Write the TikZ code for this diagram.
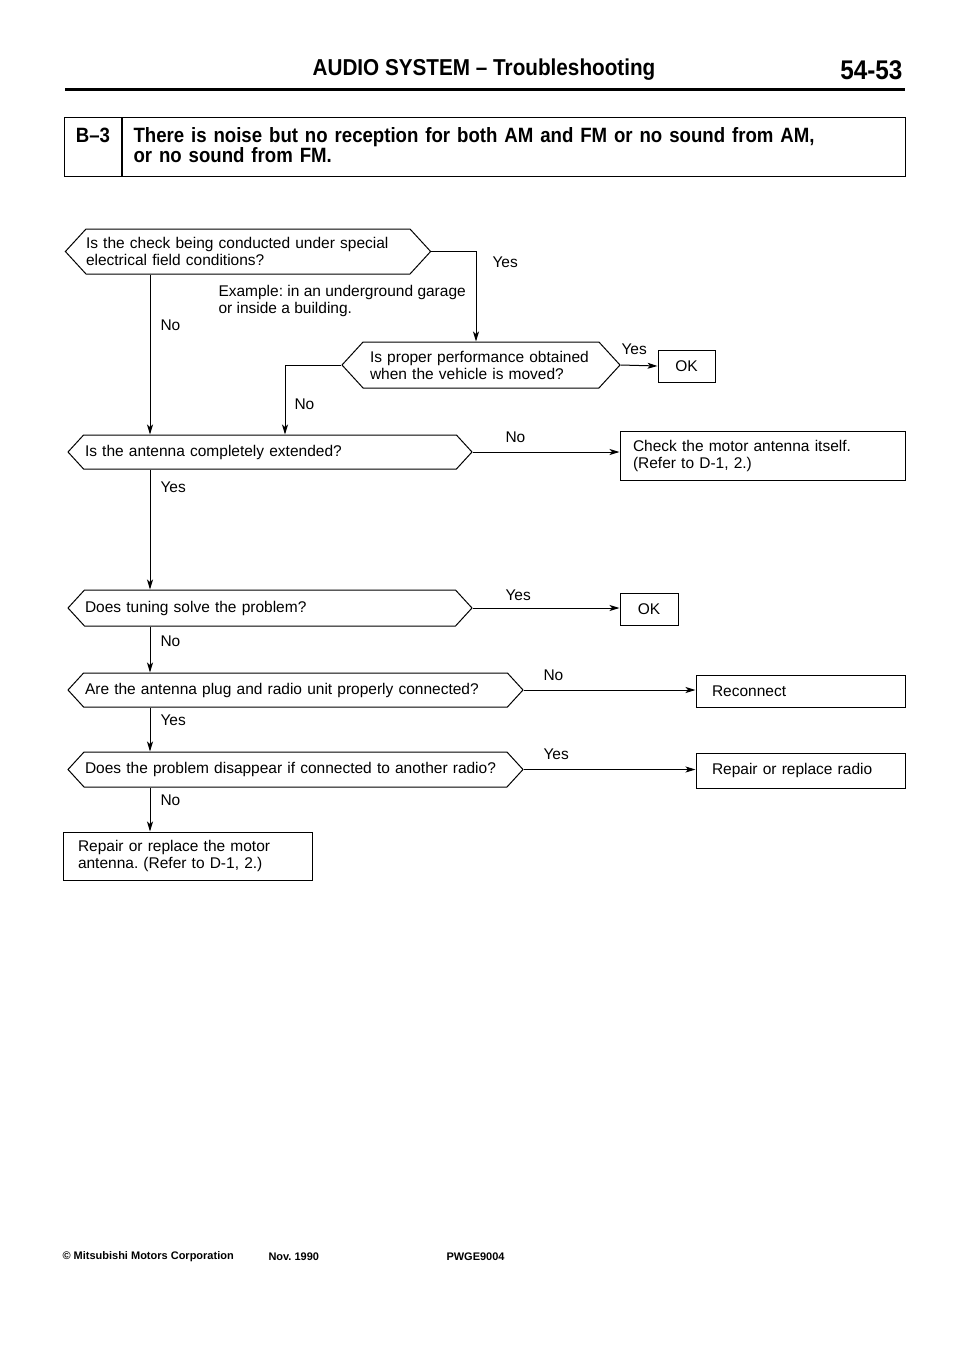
\documentclass[tikz,border=0pt]{standalone}
\usepackage{fontspec}
\setmainfont{Liberation Sans}
\newfontfamily\headfont[FakeStretch=0.9]{Liberation Sans}
\usetikzlibrary{arrows.meta,positioning,calc,shapes.symbols}
\frenchspacing
\newcommand\flowfont{\fontsize{15.5}{17}\selectfont}
\tikzset{ask/.style={draw,signal,signal to=west and east,signal pointer angle=95,align=left,inner sep=0pt,font=\flowfont},
act/.style={draw,align=left,inner sep=0pt,font=\flowfont},
probbox/.style={draw,inner sep=0pt,font=\headfont\bfseries\fontsize{20.7}{20}\selectfont},
flow/.style={-{Stealth[length=10pt,width=6pt,inset=2.5pt]}},
lab/.style={font=\flowfont,anchor=west,inner sep=0pt},
foot/.style={font=\bfseries\fontsize{11}{13}\selectfont,anchor=west,inner sep=0pt}}

\begin{document}
\begin{tikzpicture}[x=1pt,y=-1pt,line width=1pt]
\useasboundingbox (0,0) rectangle (960,1358);
\node[font=\headfont\bfseries\fontsize{23}{25}\selectfont] (title) at (484,70) {AUDIO SYSTEM – Troubleshooting};
\node[font=\headfont\bfseries\fontsize{27}{29}\selectfont,anchor=east,inner sep=0pt] (page) at (903,70) {54-53};
\draw[line width=3pt] (65,89) -- (905,89);
\node[probbox,anchor=north west,minimum width=783pt,minimum height=59pt,text width=761pt,inner xsep=11pt,align=left] (prob) at (122,117) {There is noise but no reception for both AM and FM or no sound from AM,\\or no sound from FM.\vspace{4pt}};
\node[probbox,anchor=north east,minimum width=57pt,minimum height=59pt,align=center] (code) at (prob.north west) {B–3\\\mbox{}\vspace{4pt}};

\node[ask,minimum width=364pt,minimum height=45pt,text width=324pt] (d1) at (248,251.5) {Is the check being conducted under special\\electrical field conditions?};
\node[ask,minimum width=278pt,minimum height=46pt,text width=222pt] (d2) at (481,365) {Is proper performance obtained\\when the vehicle is moved?};
\node[ask,minimum width=404pt,minimum height=34pt,text width=370pt] (d3) at (270,452) {Is the antenna completely extended?};
\node[ask,minimum width=404pt,minimum height=36pt,text width=370pt] (d4) at (270,608) {Does tuning solve the problem?};
\node[ask,minimum width=455pt,minimum height=34pt,text width=421pt] (d5) at (295.5,690) {Are the antenna plug and radio unit properly connected?};
\node[ask,minimum width=455pt,minimum height=35pt,text width=421pt] (d6) at (295.5,769.5) {Does the problem disappear if connected to another radio?};

\node[act,minimum width=57pt,minimum height=32pt,align=center] (ok1) at (686.5,366) {OK};
\node[act,minimum width=285pt,minimum height=49pt,text width=259pt] (chk) at (762.5,455.5) {Check the motor antenna itself.\\(Refer to D-1, 2.)};
\node[act,minimum width=58pt,minimum height=32pt,align=center] (ok2) at (649,609) {OK};
\node[act,minimum width=209pt,minimum height=32pt,text width=177pt] (recon) at (800.5,691) {Reconnect};
\node[act,minimum width=209pt,minimum height=35pt,text width=177pt] (reprad) at (800.5,770.5) {Repair or replace radio};
\node[act,minimum width=249pt,minimum height=48pt,text width=219pt] (repmot) at (187.5,856) {Repair or replace the motor\\antenna. (Refer to D-1, 2.)};

\coordinate (trunk) at (150,0);
\coordinate (side) at (285,0);
\draw[flow] (d1.east) -| ([xshift=-5pt]d2.north);
\draw[flow] (d1.south -| trunk) -- (d3.north -| trunk);
\draw[flow] (d2.west) -| (d3.north -| side);
\draw[flow] (d2.east) -- (ok1.west);
\draw[flow] (d3.east) -- (d3.east -| chk.west);
\draw[flow] (d3.south -| trunk) -- (d4.north -| trunk);
\draw[flow] (d4.east) -- (d4.east -| ok2.west);
\draw[flow] (d4.south -| trunk) -- (d5.north -| trunk);
\draw[flow] (d5.east) -- (d5.east -| recon.west);
\draw[flow] (d5.south -| trunk) -- (d6.north -| trunk);
\draw[flow] (d6.east) -- (d6.east -| reprad.west);
\draw[flow] (d6.south -| trunk) -- (repmot.north -| trunk);

\node[lab] (y1) at (492,262) {Yes};
\node[lab] (n1) at (160,325) {No};
\node[lab,align=left] (ex) at (218,301) {Example: in an underground garage\\or inside a building.};
\node[lab] (y2) at (621,349) {Yes};
\node[lab] (n2) at (294,404) {No};
\node[lab] (n3) at (505,437) {No};
\node[lab] (y3) at (160,487) {Yes};
\node[lab] (y4) at (505,595) {Yes};
\node[lab] (n4) at (160,641) {No};
\node[lab] (n5) at (543,675) {No};
\node[lab] (y5) at (160,720) {Yes};
\node[lab] (y6) at (543,754) {Yes};
\node[lab] (n6) at (160,800) {No};

\node[foot] (corp) at (62,1257) {© Mitsubishi Motors Corporation};
\node[foot] (date) at (268,1257) {Nov. 1990};
\node[foot] (pwge) at (446,1257) {PWGE9004};
\end{tikzpicture}
\end{document}
